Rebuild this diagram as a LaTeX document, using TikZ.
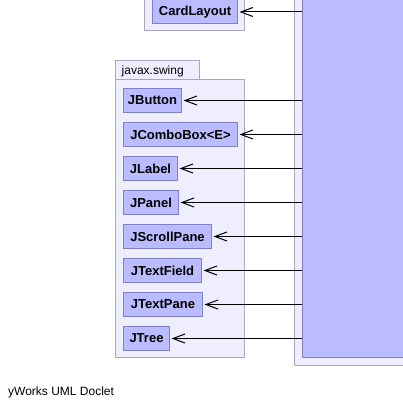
\documentclass[tikz,border=0pt]{standalone}
\usepackage{fontspec}
\setmainfont{Liberation Sans}
\usetikzlibrary{arrows.meta}
\definecolor{clsfill}{RGB}{187,187,255}
\definecolor{clsdraw}{RGB}{128,128,200}
\definecolor{pkgfill}{RGB}{238,238,255}
\definecolor{pkgdraw}{RGB}{168,168,192}
\begin{document}
\begin{tikzpicture}[x=1pt,y=-1pt,
 cls/.style={draw=clsdraw, fill=clsfill, line width=1pt, inner sep=0pt, anchor=north west,
   minimum height=24pt, font=\fontsize{13}{15}\selectfont\bfseries},
 pkg/.style={draw=pkgdraw, fill=pkgfill, line width=1pt},
 dep/.style={line width=1pt, -{Straight Barb[length=12pt,width=9pt]}, shorten >=1.5pt}]
\useasboundingbox (0,0) rectangle (403,403);
\fill[white] (0,0) rectangle (403,403);
\clip (0,0) rectangle (403,403);
% right package and main class
\draw[pkg] (294,-10) rectangle (420,365);
\node[cls, minimum width=120pt, minimum height=362pt] (main) at (302,-5) {};
% top package
\draw[pkg] (144,-10) rectangle (244,31);
\node[cls, minimum width=85pt] (card) at (152,-0.5) {CardLayout};
% javax.swing package
\draw[pkg] (115,61) rectangle (199,80);
\draw[pkg] (115,80) rectangle (244,357);
\node[anchor=west, inner sep=0pt, font=\fontsize{12}{14}\selectfont] (pkglabel) at (121.5,71) {javax.swing};
\node[cls, minimum width=58pt] (b1) at (123,88) {JButton};
\node[cls, minimum width=114pt] (b2) at (123,122) {JComboBox<E>};
\node[cls, minimum width=54pt] (b3) at (123,156) {JLabel};
\node[cls, minimum width=55pt] (b4) at (123,190) {JPanel};
\node[cls, minimum width=88pt] (b5) at (123,224) {JScrollPane};
\node[cls, minimum width=78pt] (b6) at (123,258) {JTextField};
\node[cls, minimum width=79pt] (b7) at (123,292) {JTextPane};
\node[cls, minimum width=46pt] (b8) at (123,326) {JTree};
% dependencies
\foreach \n in {card,b1,b2,b3,b4,b5,b6,b7,b8}
  \draw[dep] (main.west |- \n.east) -- (\n.east);
% footer
\node[anchor=west, inner sep=0pt, font=\fontsize{12}{14}\selectfont] (footer) at (8,392) {yWorks UML Doclet};
\end{tikzpicture}
\end{document}
